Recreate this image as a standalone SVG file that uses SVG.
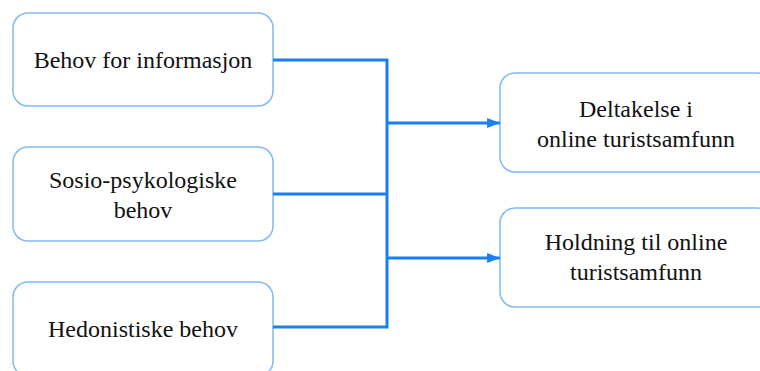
<svg xmlns="http://www.w3.org/2000/svg" width="760" height="371" viewBox="0 0 760 371">
<defs>
<style>
.box{fill:#ffffff;stroke:#80b9f6;stroke-width:1.5}
.c{fill:none;stroke:#1a7ff2;stroke-width:3}
</style>
<marker id="ah" viewBox="0 0 10 10" refX="10" refY="5" markerWidth="4.3" markerHeight="3.3" orient="auto" markerUnits="strokeWidth" preserveAspectRatio="none">
<path d="M0,0 L10,5 L0,10 z" fill="#1a7ff2"/>
</marker>
</defs>
<rect width="760" height="371" fill="#ffffff"/>
<g font-family="Liberation Serif, Times New Roman, serif" font-size="24" fill="#111111" text-anchor="middle">
<g id="n1"><rect class="box" x="13" y="13" width="260" height="93" rx="15"/><text x="143" y="68">Behov for informasjon</text></g>
<g id="n2"><rect class="box" x="13" y="147" width="260" height="94" rx="15"/><text x="143" y="188">Sosio-psykologiske</text><text x="143" y="218">behov</text></g>
<g id="n3"><rect class="box" x="13" y="282" width="260" height="94" rx="15"/><text x="143" y="337">Hedonistiske behov</text></g>
<g id="n4"><rect class="box" x="500" y="73" width="272" height="99" rx="15"/><text x="636" y="117">Deltakelse i</text><text x="636" y="147">online turistsamfunn</text></g>
<g id="n5"><rect class="box" x="500" y="208" width="272" height="99" rx="15"/><text x="636" y="250">Holdning til online</text><text x="636" y="280">turistsamfunn</text></g>
</g>
<g id="connectors">
<path class="c" d="M273,60 H387 V327 H273"/>
<path class="c" d="M273,194 H387"/>
<path class="c" d="M387,123 H500" marker-end="url(#ah)"/>
<path class="c" d="M387,258 H500" marker-end="url(#ah)"/>
</g>
</svg>
